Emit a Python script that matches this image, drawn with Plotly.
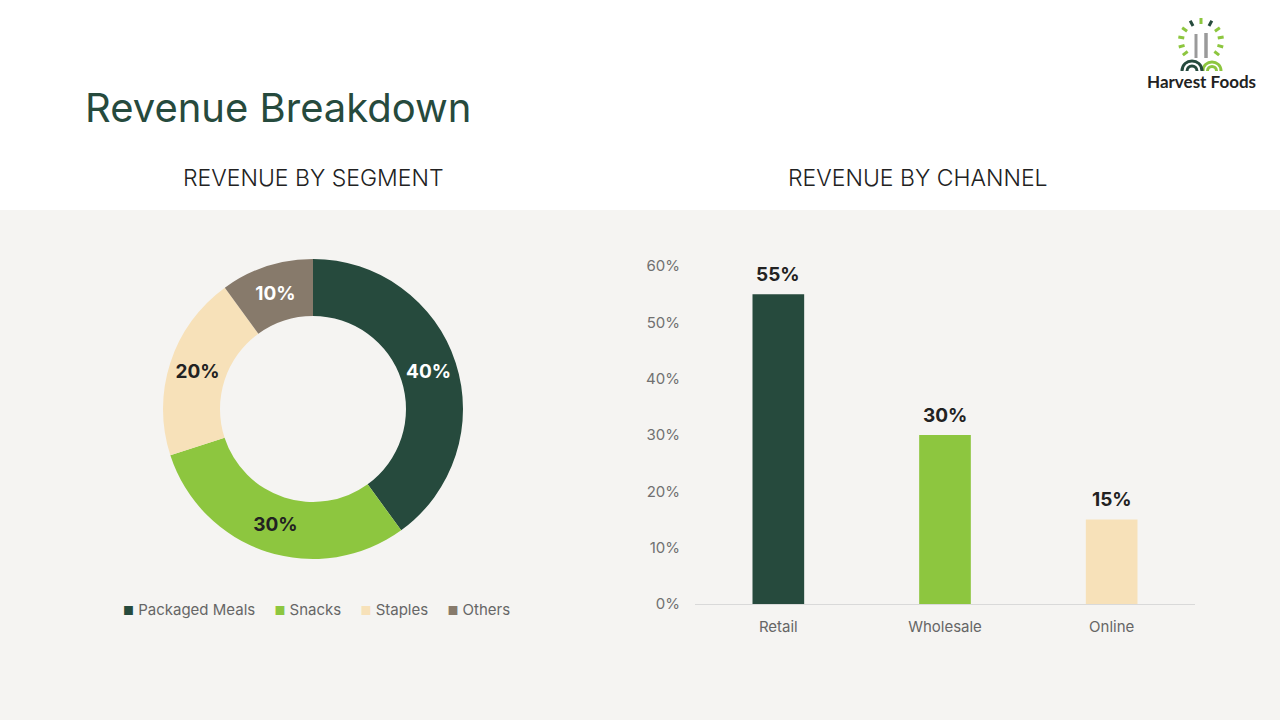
import math
import plotly.graph_objects as go

# dados
segmentos = ['Packaged Meals', 'Snacks', 'Staples', 'Others']
receita_segmento = [40, 30, 20, 10]
canais = ['Retail', 'Wholesale', 'Online']
receita_canal = [0.55, 0.30, 0.15]
ticks_y = [0, 0.1, 0.2, 0.3, 0.4, 0.5, 0.6]
ticks_y_texto = ['0%', '10%', '20%', '30%', '40%', '50%', '60%']

VERDE_ESCURO = '#264a3d'
VERDE = '#8dc63f'
BEGE = '#f7e1b9'
TAUPE = '#877a6b'
FUNDO = '#f5f4f2'
FONTE = 'Inter'
cores_segmento = [VERDE_ESCURO, VERDE, BEGE, TAUPE]
cores_canal = [VERDE_ESCURO, VERDE, BEGE]

W, H = 1280, 720


def px(x):
    return x / W


def py(y):
    return 1 - y / H


fig = go.Figure()

# rosca - receita por segmento
fig.add_trace(go.Pie(
    labels=segmentos,
    values=receita_segmento,
    hole=0.62,
    sort=False,
    direction='clockwise',
    rotation=0,
    marker=dict(colors=cores_segmento, line=dict(width=0)),
    texttemplate='%{value}%',
    textposition='inside',
    insidetextorientation='horizontal',
    textfont=dict(family=FONTE, size=19, weight='bold',
                  color=['white', '#222222', '#222222', 'white']),
    domain=dict(x=[px(163), px(463)], y=[py(559), py(259)]),
    hoverinfo='label+percent',
    showlegend=False,
))

# barras - receita por canal
fig.add_trace(go.Bar(
    x=canais,
    y=receita_canal,
    width=0.31,
    marker=dict(color=cores_canal, line=dict(width=0)),
    showlegend=False,
))

# rótulos das barras
for canal, valor in zip(canais, receita_canal):
    fig.add_annotation(
        x=canal, y=valor, xref='x', yref='y',
        text=f'{valor:.0%}', showarrow=False,
        yanchor='middle', yshift=20,
        font=dict(family=FONTE, size=19, weight='bold', color='#222222'),
    )

fig.update_layout(
    width=W,
    height=H,
    margin=dict(l=0, r=0, t=0, b=0, autoexpand=False),
    paper_bgcolor='white',
    plot_bgcolor='rgba(0,0,0,0)',
    font=dict(family=FONTE, color='#666666'),
    showlegend=False,
    xaxis=dict(
        domain=[px(695), px(1195)],
        showgrid=False,
        showline=True,
        linecolor='#d9d9d9',
        linewidth=1,
        ticks='',
        ticklabelstandoff=9,
        tickfont=dict(size=15, color='#666666'),
        automargin=False,
        fixedrange=True,
    ),
    yaxis=dict(
        domain=[py(604), py(266)],
        range=[0, 0.6],
        tickvals=ticks_y,
        ticktext=ticks_y_texto,
        showgrid=False,
        zeroline=False,
        showline=False,
        ticks='',
        ticklabelstandoff=14,
        tickfont=dict(size=15, color='#707070'),
        automargin=False,
        fixedrange=True,
    ),
)

# faixa de fundo cinza
fig.add_shape(
    type='rect', xref='paper', yref='paper',
    x0=0, x1=1, y0=0, y1=py(210),
    fillcolor=FUNDO, line=dict(width=0), layer='below',
)

# legenda da rosca
itens = [
    f'<span style="color:{cor};font-size:12px">■</span> {nome}'
    for nome, cor in zip(segmentos, cores_segmento)
]
fig.add_annotation(
    text='\u2003 '.join(itens), xref='paper', yref='paper',
    x=px(316), y=py(609), xanchor='center', yanchor='middle',
    showarrow=False,
    font=dict(family=FONTE, size=15, color='#666666'),
)

# títulos
fig.add_annotation(
    text='Revenue Breakdown', xref='paper', yref='paper',
    x=px(83), y=py(107), xanchor='left', yanchor='middle',
    showarrow=False,
    font=dict(family=FONTE, size=40, color=VERDE_ESCURO, weight=400),
)
fig.add_annotation(
    text='REVENUE BY SEGMENT', xref='paper', yref='paper',
    x=px(313), y=py(178), xanchor='center', yanchor='middle',
    showarrow=False,
    font=dict(family=FONTE, size=23, color='#222222', weight=300),
)
fig.add_annotation(
    text='REVENUE BY CHANNEL', xref='paper', yref='paper',
    x=px(918), y=py(178), xanchor='center', yanchor='middle',
    showarrow=False,
    font=dict(family=FONTE, size=23, color='#222222', weight=300),
)

# logotipo simplificado
fig.add_annotation(
    text='Harvest Foods', xref='paper', yref='paper',
    x=px(1201), y=py(81), xanchor='center', yanchor='middle',
    showarrow=False,
    font=dict(family='Lato', size=17, color='#222222', weight='bold'),
)
# folhas em volta
for ang, cor in [(90, VERDE), (62, VERDE_ESCURO), (118, VERDE_ESCURO),
                 (35, VERDE), (145, VERDE), (10, VERDE), (170, VERDE),
                 (-15, VERDE), (195, VERDE), (-38, VERDE), (218, VERDE)]:
    a = math.radians(ang)
    x0, y0 = 1201 + 17 * math.cos(a), 41 - 17 * math.sin(a)
    x1, y1 = 1201 + 23 * math.cos(a), 41 - 23 * math.sin(a)
    fig.add_shape(type='line', xref='paper', yref='paper',
                  x0=px(x0), y0=py(y0), x1=px(x1), y1=py(y1),
                  line=dict(color=cor, width=3))
# garfo e faca
fig.add_shape(type='line', xref='paper', yref='paper',
              x0=px(1196), x1=px(1196), y0=py(58), y1=py(34),
              line=dict(color='#9a9a9a', width=3))
fig.add_shape(type='line', xref='paper', yref='paper',
              x0=px(1206), x1=px(1206), y0=py(58), y1=py(33),
              line=dict(color='#9a9a9a', width=3.5))
# arcos
for cx, r, cor in [(1212, 9, VERDE), (1212, 4.5, VERDE),
                   (1192, 10, VERDE_ESCURO), (1192, 5, VERDE_ESCURO)]:
    k = 1.333 * r
    caminho = (f'M {px(cx - r)} {py(71)} '
               f'C {px(cx - r)} {py(71 - k)} {px(cx + r)} {py(71 - k)} {px(cx + r)} {py(71)}')
    fig.add_shape(type='path', xref='paper', yref='paper', path=caminho,
                  line=dict(color=cor, width=3))

fig.write_html('out.html', config={'displayModeBar': False},
               post_script="document.body.style.margin='0px';")
